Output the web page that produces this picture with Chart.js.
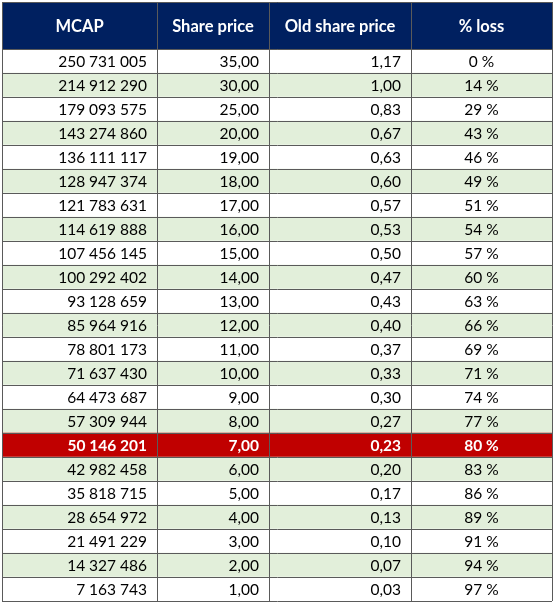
<!DOCTYPE html>
<html>
<head>
<meta charset="utf-8">
<script src="https://cdn.jsdelivr.net/npm/chart.js@4.4.1/dist/chart.umd.min.js"></script>
<style>
  body { margin: 0; background: #fff; }
  #wrap { width: 557px; height: 607px; }
</style>
</head>
<body>
<div id="wrap"><canvas id="table-chart"></canvas></div>
<script>
// table values
var headers = ['MCAP', 'Share price', 'Old share price', '% loss'];
var mcap = [250731005, 214912290, 179093575, 143274860, 136111117, 128947374, 121783631,
  114619888, 107456145, 100292402, 93128659, 85964916, 78801173, 71637430, 64473687,
  57309944, 50146201, 42982458, 35818715, 28654972, 21491229, 14327486, 7163743];
var sharePrice = [35, 30, 25, 20, 19, 18, 17, 16, 15, 14, 13, 12, 11, 10, 9, 8, 7, 6, 5, 4, 3, 2, 1];
var oldPrice = [1.17, 1.00, 0.83, 0.67, 0.63, 0.60, 0.57, 0.53, 0.50, 0.47, 0.43, 0.40,
  0.37, 0.33, 0.30, 0.27, 0.23, 0.20, 0.17, 0.13, 0.10, 0.07, 0.03];
var lossPct = [0, 14, 29, 43, 46, 49, 51, 54, 57, 60, 63, 66, 69, 71, 74, 77, 80, 83, 86, 89, 91, 94, 97];
var highlightRow = 16;

// layout
var colWidths = [155, 112, 142, 141];
var colEdges = [0];
colWidths.forEach(function (w, i) { colEdges.push(colEdges[i] + w); });
var tableWidth = colEdges[colEdges.length - 1];

var NAVY = '#002060', GREEN = '#e2efda', RED = '#c00000', LINE = '#5a5a5a';
var FONT = 'Lato, "Open Sans", sans-serif';

function fmtInt(v) { return String(v).replace(/\B(?=(\d{3})+(?!\d))/g, ' '); }
function fmtDec(v) { return v.toFixed(2).replace('.', ','); }

var rowLabels = mcap.map(function (v, i) { return 'r' + i; });
var cells = mcap.map(function (v, i) {
  return [fmtInt(v), fmtDec(sharePrice[i]), fmtDec(oldPrice[i]), lossPct[i] + ' %'];
});
var rowColors = mcap.map(function (v, i) {
  if (i === highlightRow) return RED;
  return i % 2 ? GREEN : '#ffffff';
});

var tablePlugin = {
  id: 'tableText',
  beforeDraw: function (chart) {
    var ctx = chart.ctx, x = chart.scales.x, area = chart.chartArea;
    ctx.save();
    ctx.fillStyle = NAVY;
    ctx.fillRect(area.left, x.top, area.right - area.left, area.top - x.top);
    ctx.restore();
  },
  afterDraw: function (chart) {
    var ctx = chart.ctx, x = chart.scales.x, y = chart.scales.y, area = chart.chartArea;
    ctx.save();
    // top border of header
    ctx.strokeStyle = LINE;
    ctx.lineWidth = 1;
    ctx.beginPath();
    ctx.moveTo(area.left, x.top + 0.5);
    ctx.lineTo(area.right + 1, x.top + 0.5);
    ctx.stroke();

    ctx.textBaseline = 'middle';
    // header
    ctx.fillStyle = '#ffffff';
    ctx.font = 'bold 16.5px ' + FONT;
    ctx.textAlign = 'center';
    var hy = (x.top + area.top) / 2 + 1;
    headers.forEach(function (h, c) {
      var cx = (x.getPixelForValue(colEdges[c]) + x.getPixelForValue(colEdges[c + 1])) / 2;
      ctx.fillText(h, cx, hy);
    });
    // body
    cells.forEach(function (row, r) {
      var py = y.getPixelForValue(r) + 0.5;
      var hl = r === highlightRow;
      ctx.fillStyle = hl ? '#ffffff' : '#000000';
      ctx.font = (hl ? 'bold ' : '') + '15.5px ' + FONT;
      row.forEach(function (txt, c) {
        var l = x.getPixelForValue(colEdges[c]), rr = x.getPixelForValue(colEdges[c + 1]);
        if (c < 3) {
          ctx.textAlign = 'right';
          ctx.fillText(txt, rr - 10, py);
        } else {
          ctx.textAlign = 'center';
          ctx.fillText(txt, (l + rr) / 2, py);
        }
      });
    });
    ctx.restore();
  }
};

var config = {
  type: 'bar',
  data: {
    labels: rowLabels,
    datasets: [{
      data: rowLabels.map(function () { return [0, tableWidth]; }),
      backgroundColor: rowColors,
      borderWidth: 0,
      barPercentage: 1,
      categoryPercentage: 1
    }]
  },
  options: {
    indexAxis: 'y',
    responsive: true,
    maintainAspectRatio: false,
    animation: false,
    events: [],
    layout: { padding: { left: 2, right: 5, top: 2, bottom: 6 } },
    plugins: { legend: { display: false }, tooltip: { enabled: false } },
    scales: {
      x: {
        type: 'linear',
        position: 'top',
        min: 0,
        max: tableWidth,
        afterBuildTicks: function (axis) {
          axis.ticks = colEdges.map(function (v) { return { value: v }; });
        },
        ticks: { display: false },
        grid: { color: LINE, tickLength: 47, z: 1 },
        border: { color: LINE, z: 1 }
      },
      y: {
        type: 'category',
        offset: true,
        ticks: { display: false },
        grid: { color: LINE, drawTicks: false, offset: true, z: 1 },
        border: { color: LINE, z: 1 }
      }
    }
  },
  plugins: [tablePlugin]
};

window.onload = function () {
  var ctx = document.getElementById('table-chart').getContext('2d');
  window.myTable = new Chart(ctx, config);
};
</script>
</body>
</html>
